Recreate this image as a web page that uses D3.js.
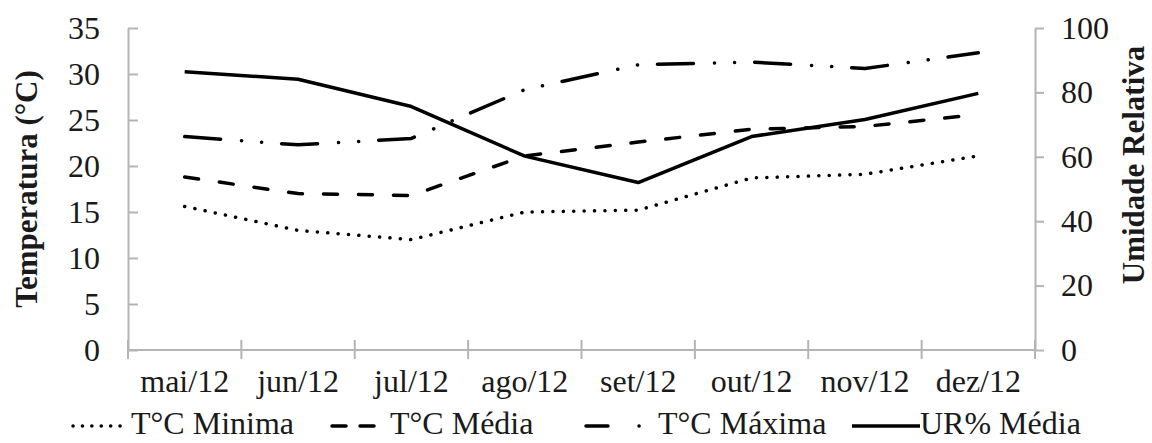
<!DOCTYPE html>
<meta charset="utf-8">
<style>
  body { margin: 0; background: #fff; }
  .axis path, .axis line { stroke: #b4b4b4; stroke-width: 2; fill: none; }
  .serie { fill: none; stroke: #000; stroke-width: 3.5; }
</style>
<body>
<script src="https://cdnjs.cloudflare.com/ajax/libs/d3/7.8.5/d3.min.js"></script>
<script>
// meses
var meses = ["mai/12", "jun/12", "jul/12", "ago/12", "set/12", "out/12", "nov/12", "dez/12"];

// temperaturas (°C) e umidade relativa (%)
var tMinima = [15.6, 13.0, 12.0, 15.0, 15.2, 18.7, 19.1, 21.1];
var tMedia  = [18.8, 17.0, 16.8, 21.1, 22.6, 24.0, 24.3, 25.6];
var tMaxima = [23.2, 22.3, 23.0, 28.3, 31.0, 31.3, 30.6, 32.3];
var urMedia = [86.4, 84.1, 75.6, 60.2, 52.0, 66.3, 71.6, 79.7];

var ticksTemp = [0, 5, 10, 15, 20, 25, 30, 35];
var ticksUR = [0, 20, 40, 60, 80, 100];

var W = 1152, H = 443;
var plot = {left: 128, right: 1035, top: 28, bottom: 350};
var FONTE = "'Liberation Serif', Tinos, 'Times New Roman', serif";

var svg = d3.select("body").append("svg")
  .attr("width", W)
  .attr("height", H);

var x = d3.scaleBand()
  .domain(meses)
  .range([plot.left, plot.right]);

var yT = d3.scaleLinear().domain([0, 35]).range([plot.bottom, plot.top]);
var yU = d3.scaleLinear().domain([0, 100]).range([plot.bottom, plot.top]);

// eixo esquerdo (ticks para dentro)
svg.append("g")
  .attr("class", "axis")
  .attr("transform", "translate(" + plot.left + ",0)")
  .call(d3.axisLeft(yT).tickValues(ticksTemp).tickSize(-10).tickSizeOuter(0).tickPadding(28))
  .selectAll("text").style("text-anchor", "end");

// eixo direito
svg.append("g")
  .attr("class", "axis")
  .attr("transform", "translate(" + plot.right + ",0)")
  .call(d3.axisRight(yU).tickValues(ticksUR).tickSize(9).tickSizeOuter(0).tickPadding(17));

// eixo x
var gx = svg.append("g")
  .attr("class", "axis")
  .attr("transform", "translate(0," + plot.bottom + ")")
  .call(d3.axisBottom(x).tickSize(0).tickSizeOuter(0).tickPadding(19));
gx.select(".domain").attr("d", "M" + plot.left + ",0H" + plot.right);

// marcas entre categorias, atravessando o eixo
var limites = meses.map(function(d) { return x(d); }).concat([x(meses[meses.length - 1]) + x.step()]);
gx.selectAll(".limite")
  .data(limites)
  .enter().append("line")
  .attr("class", "limite")
  .attr("x1", function(d) { return d; })
  .attr("x2", function(d) { return d; })
  .attr("y1", -10)
  .attr("y2", 9);

gx.selectAll(".tick text").attr("dy", "0.71em");

// títulos dos eixos
svg.append("text")
  .attr("class", "title")
  .attr("transform", "translate(37," + (plot.top + plot.bottom) / 2 + ") rotate(-90)")
  .attr("text-anchor", "middle")
  .text("Temperatura (°C)");

svg.append("text")
  .attr("class", "title")
  .attr("transform", "translate(1144,165) rotate(-90)")
  .attr("text-anchor", "middle")
  .text("Umidade Relativa");

// séries
var series = [
  {nome: "T°C Minima", vals: tMinima, y: yT, dash: "0.1,10.3", lx: 73, lw: 56, ldash: "0.1,9.3", tx: 131},
  {nome: "T°C Média", vals: tMedia, y: yT, dash: "14,21", lx: 332, lw: 42, ldash: "14,14", tx: 390},
  {nome: "T°C Máxima", vals: tMaxima, y: yT, dash: "36,21,0.1,20,0.1,20", lx: 586, lw: 56, ldash: "22,31,0.1,40", tx: 658},
  {nome: "UR% Média", vals: urMedia, y: yU, dash: null, lx: 852, lw: 68, ldash: null, tx: 920}
];

series.forEach(function(s) {
  var line = d3.line()
    .x(function(d, i) { return x(meses[i]) + x.bandwidth() / 2; })
    .y(function(d) { return s.y(d); });
  svg.append("path")
    .datum(s.vals)
    .attr("class", "serie")
    .attr("d", line)
    .attr("stroke-linecap", s.dash ? "round" : "butt")
    .attr("stroke-linejoin", "round")
    .attr("stroke-dasharray", s.dash);
});

// legenda
var leg = svg.append("g").attr("class", "legend");
series.forEach(function(s) {
  leg.append("line")
    .attr("class", "serie")
    .attr("x1", s.lx).attr("x2", s.lx + s.lw)
    .attr("y1", 426).attr("y2", 426)
    .attr("stroke-linecap", s.ldash ? "round" : "butt")
    .attr("stroke-dasharray", s.ldash);
  leg.append("text")
    .attr("x", s.tx)
    .attr("y", 434)
    .text(s.nome);
});

// fonte de todos os textos
svg.selectAll("text")
  .style("font-family", FONTE)
  .style("font-size", "32px")
  .style("fill", "#1a1a1a");
svg.selectAll(".title")
  .style("font-size", "31px")
  .style("font-weight", "bold");
</script>
</body>
